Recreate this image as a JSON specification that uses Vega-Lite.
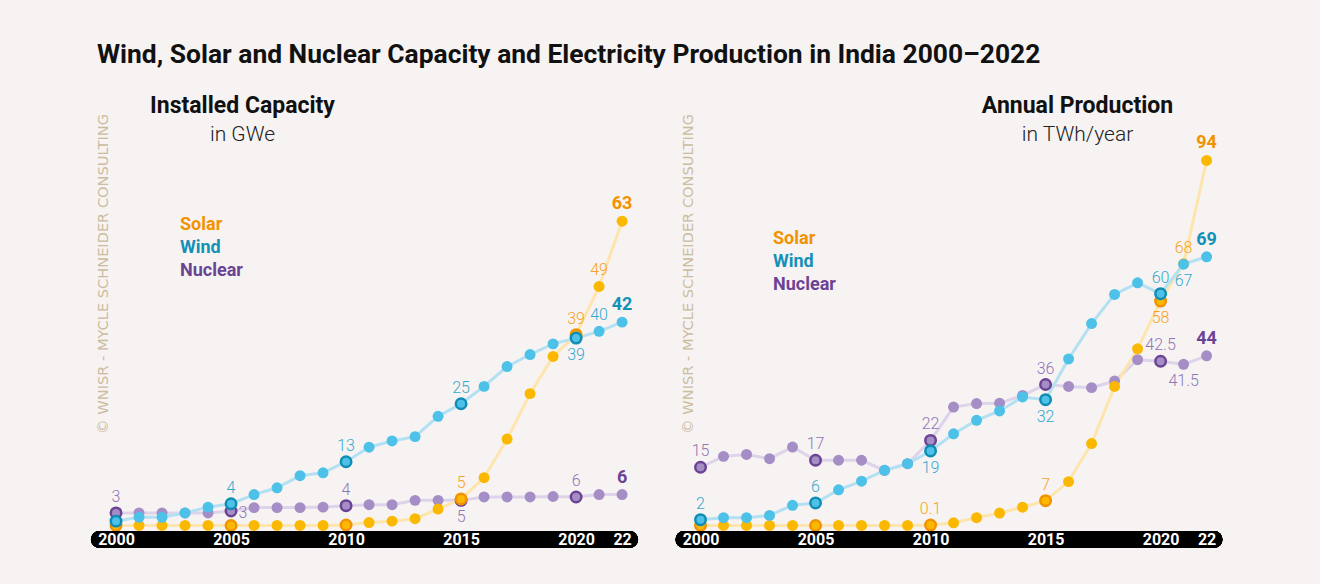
{
  "$schema": "https://vega.github.io/schema/vega-lite/v6.json",
  "background": "#f7f3f2",
  "padding": {"left": 95, "top": 41.5, "right": 102.5, "bottom": 37},
  "title": {
    "text": "Wind, Solar and Nuclear Capacity and Electricity Production in India 2000–2022",
    "anchor": "start",
    "font": "Roboto",
    "fontSize": 26.4,
    "fontWeight": "bold",
    "color": "#111111",
    "offset": 26,
    "dx": 2
  },
  "datasets": {
    "capacity": [
      {"series": "Nuclear", "year": 2000, "value": 2.6, "label": "3"},
      {"series": "Nuclear", "year": 2001, "value": 2.6},
      {"series": "Nuclear", "year": 2002, "value": 2.6},
      {"series": "Nuclear", "year": 2003, "value": 2.6},
      {"series": "Nuclear", "year": 2004, "value": 2.6},
      {"series": "Nuclear", "year": 2005, "value": 3.0, "label": "3"},
      {"series": "Nuclear", "year": 2006, "value": 3.7},
      {"series": "Nuclear", "year": 2007, "value": 3.7},
      {"series": "Nuclear", "year": 2008, "value": 3.7},
      {"series": "Nuclear", "year": 2009, "value": 3.8},
      {"series": "Nuclear", "year": 2010, "value": 4.1, "label": "4"},
      {"series": "Nuclear", "year": 2011, "value": 4.3},
      {"series": "Nuclear", "year": 2012, "value": 4.3},
      {"series": "Nuclear", "year": 2013, "value": 5.2},
      {"series": "Nuclear", "year": 2014, "value": 5.2},
      {"series": "Nuclear", "year": 2015, "value": 5.2, "label": "5"},
      {"series": "Nuclear", "year": 2016, "value": 5.9},
      {"series": "Nuclear", "year": 2017, "value": 5.9},
      {"series": "Nuclear", "year": 2018, "value": 5.9},
      {"series": "Nuclear", "year": 2019, "value": 6.0},
      {"series": "Nuclear", "year": 2020, "value": 5.9, "label": "6"},
      {"series": "Nuclear", "year": 2021, "value": 6.4},
      {"series": "Nuclear", "year": 2022, "value": 6.4, "label": "6"},
      {"series": "Solar", "year": 2000, "value": 0},
      {"series": "Solar", "year": 2001, "value": 0},
      {"series": "Solar", "year": 2002, "value": 0},
      {"series": "Solar", "year": 2003, "value": 0},
      {"series": "Solar", "year": 2004, "value": 0},
      {"series": "Solar", "year": 2005, "value": 0},
      {"series": "Solar", "year": 2006, "value": 0},
      {"series": "Solar", "year": 2007, "value": 0},
      {"series": "Solar", "year": 2008, "value": 0},
      {"series": "Solar", "year": 2009, "value": 0},
      {"series": "Solar", "year": 2010, "value": 0.1},
      {"series": "Solar", "year": 2011, "value": 0.6},
      {"series": "Solar", "year": 2012, "value": 0.9},
      {"series": "Solar", "year": 2013, "value": 1.4},
      {"series": "Solar", "year": 2014, "value": 3.4},
      {"series": "Solar", "year": 2015, "value": 5.5, "label": "5"},
      {"series": "Solar", "year": 2016, "value": 9.9},
      {"series": "Solar", "year": 2017, "value": 17.9},
      {"series": "Solar", "year": 2018, "value": 27.3},
      {"series": "Solar", "year": 2019, "value": 35.0},
      {"series": "Solar", "year": 2020, "value": 39.5, "label": "39"},
      {"series": "Solar", "year": 2021, "value": 49.5, "label": "49"},
      {"series": "Solar", "year": 2022, "value": 63, "label": "63"},
      {"series": "Wind", "year": 2000, "value": 0.9},
      {"series": "Wind", "year": 2001, "value": 1.7},
      {"series": "Wind", "year": 2002, "value": 1.7},
      {"series": "Wind", "year": 2003, "value": 2.6},
      {"series": "Wind", "year": 2004, "value": 3.8},
      {"series": "Wind", "year": 2005, "value": 4.5, "label": "4"},
      {"series": "Wind", "year": 2006, "value": 6.4},
      {"series": "Wind", "year": 2007, "value": 7.8},
      {"series": "Wind", "year": 2008, "value": 10.3},
      {"series": "Wind", "year": 2009, "value": 10.9},
      {"series": "Wind", "year": 2010, "value": 13.2, "label": "13"},
      {"series": "Wind", "year": 2011, "value": 16.2},
      {"series": "Wind", "year": 2012, "value": 17.5},
      {"series": "Wind", "year": 2013, "value": 18.4},
      {"series": "Wind", "year": 2014, "value": 22.6},
      {"series": "Wind", "year": 2015, "value": 25.2, "label": "25"},
      {"series": "Wind", "year": 2016, "value": 28.8},
      {"series": "Wind", "year": 2017, "value": 32.9},
      {"series": "Wind", "year": 2018, "value": 35.4},
      {"series": "Wind", "year": 2019, "value": 37.6},
      {"series": "Wind", "year": 2020, "value": 38.8, "label": "39"},
      {"series": "Wind", "year": 2021, "value": 40.2, "label": "40"},
      {"series": "Wind", "year": 2022, "value": 42.1, "label": "42"}
    ],
    "production": [
      {"series": "Nuclear", "year": 2000, "value": 15.0, "label": "15"},
      {"series": "Nuclear", "year": 2001, "value": 17.8},
      {"series": "Nuclear", "year": 2002, "value": 18.3},
      {"series": "Nuclear", "year": 2003, "value": 17.2},
      {"series": "Nuclear", "year": 2004, "value": 20.2},
      {"series": "Nuclear", "year": 2005, "value": 16.8, "label": "17"},
      {"series": "Nuclear", "year": 2006, "value": 16.8},
      {"series": "Nuclear", "year": 2007, "value": 16.8},
      {"series": "Nuclear", "year": 2008, "value": 14.2},
      {"series": "Nuclear", "year": 2009, "value": 15.9},
      {"series": "Nuclear", "year": 2010, "value": 21.9, "label": "22"},
      {"series": "Nuclear", "year": 2011, "value": 30.5},
      {"series": "Nuclear", "year": 2012, "value": 31.4},
      {"series": "Nuclear", "year": 2013, "value": 31.5},
      {"series": "Nuclear", "year": 2014, "value": 33.5},
      {"series": "Nuclear", "year": 2015, "value": 36.3, "label": "36"},
      {"series": "Nuclear", "year": 2016, "value": 35.8},
      {"series": "Nuclear", "year": 2017, "value": 35.5},
      {"series": "Nuclear", "year": 2018, "value": 37.2},
      {"series": "Nuclear", "year": 2019, "value": 42.7},
      {"series": "Nuclear", "year": 2020, "value": 42.3, "label": "42.5"},
      {"series": "Nuclear", "year": 2021, "value": 41.5, "label": "41.5"},
      {"series": "Nuclear", "year": 2022, "value": 43.7, "label": "44"},
      {"series": "Solar", "year": 2000, "value": 0},
      {"series": "Solar", "year": 2001, "value": 0},
      {"series": "Solar", "year": 2002, "value": 0},
      {"series": "Solar", "year": 2003, "value": 0},
      {"series": "Solar", "year": 2004, "value": 0},
      {"series": "Solar", "year": 2005, "value": 0},
      {"series": "Solar", "year": 2006, "value": 0},
      {"series": "Solar", "year": 2007, "value": 0},
      {"series": "Solar", "year": 2008, "value": 0},
      {"series": "Solar", "year": 2009, "value": 0},
      {"series": "Solar", "year": 2010, "value": 0.1, "label": "0.1"},
      {"series": "Solar", "year": 2011, "value": 0.7},
      {"series": "Solar", "year": 2012, "value": 2.0},
      {"series": "Solar", "year": 2013, "value": 3.2},
      {"series": "Solar", "year": 2014, "value": 4.7},
      {"series": "Solar", "year": 2015, "value": 6.4, "label": "7"},
      {"series": "Solar", "year": 2016, "value": 11.3},
      {"series": "Solar", "year": 2017, "value": 21.1},
      {"series": "Solar", "year": 2018, "value": 35.8},
      {"series": "Solar", "year": 2019, "value": 45.5},
      {"series": "Solar", "year": 2020, "value": 57.8, "label": "58"},
      {"series": "Solar", "year": 2021, "value": 67.4, "label": "68"},
      {"series": "Solar", "year": 2022, "value": 94, "label": "94"},
      {"series": "Wind", "year": 2000, "value": 1.5, "label": "2"},
      {"series": "Wind", "year": 2001, "value": 2.0},
      {"series": "Wind", "year": 2002, "value": 2.0},
      {"series": "Wind", "year": 2003, "value": 2.6},
      {"series": "Wind", "year": 2004, "value": 5.2},
      {"series": "Wind", "year": 2005, "value": 5.8, "label": "6"},
      {"series": "Wind", "year": 2006, "value": 9.2},
      {"series": "Wind", "year": 2007, "value": 11.4},
      {"series": "Wind", "year": 2008, "value": 14.2},
      {"series": "Wind", "year": 2009, "value": 15.9},
      {"series": "Wind", "year": 2010, "value": 19.2, "label": "19"},
      {"series": "Wind", "year": 2011, "value": 23.6},
      {"series": "Wind", "year": 2012, "value": 27.1},
      {"series": "Wind", "year": 2013, "value": 29.5},
      {"series": "Wind", "year": 2014, "value": 33.1},
      {"series": "Wind", "year": 2015, "value": 32.4, "label": "32"},
      {"series": "Wind", "year": 2016, "value": 42.9},
      {"series": "Wind", "year": 2017, "value": 52.0},
      {"series": "Wind", "year": 2018, "value": 59.5},
      {"series": "Wind", "year": 2019, "value": 62.5},
      {"series": "Wind", "year": 2020, "value": 59.7, "label": "60"},
      {"series": "Wind", "year": 2021, "value": 67.3, "label": "67"},
      {"series": "Wind", "year": 2022, "value": 69.2, "label": "69"}
    ]
  },
  "hconcat": [
    {
      "width": 530,
      "height": 388.5,
      "data": {"name": "capacity"},
      "title": {
        "text": "Installed Capacity",
        "subtitle": "in GWe",
        "anchor": "start",
        "frame": "group",
        "align": "center",
        "dx": 143.5,
        "offset": -31,
        "font": "Roboto",
        "fontSize": 23,
        "fontWeight": "bold",
        "color": "#111111",
        "subtitleFont": "Roboto",
        "subtitleFontSize": 21,
        "subtitleFontWeight": 300,
        "subtitleColor": "#222222",
        "subtitlePadding": 6
      },
      "encoding": {
        "x": {
          "field": "year", "type": "quantitative",
          "scale": {"domain": [1999.26, 2022.3], "nice": false, "zero": false},
          "axis": {
            "title": null, "orient": "bottom", "labels": false, "zindex": 1,
            "domainColor": "#000000", "domainWidth": 17, "domainCap": "round",
            "ticks": false, "tickSize": 0, "grid": false
          }
        },
        "y": {
          "field": "value", "type": "quantitative",
          "scale": {"domain": [-2.8, 77.64], "nice": false, "zero": false},
          "axis": {
            "title": "© WNISR - MYCLE SCHNEIDER CONSULTING",
            "titleX": 4, "titleY": -37, "titleAngle": 270, "titleAlign": "right", "titleBaseline": "middle",
            "titleColor": "#cbbc9f", "titleFont": "DejaVu Sans", "titleFontSize": 14.6, "titleFontWeight": "normal",
            "domain": false, "ticks": false, "labels": false, "grid": false
          }
        }
      },
      "layer": [
        {
          "mark": {"type": "line", "strokeWidth": 3},
          "encoding": {
            "color": {
              "field": "series", "type": "nominal",
              "scale": {"domain": ["Solar", "Wind", "Nuclear"], "range": ["#fde5ad", "#b3e0f2", "#ddd3ea"]},
              "legend": {
                "orient": "none", "legendX": 63, "legendY": 65, "title": null, "padding": 0,
                "symbolSize": 0, "symbolOpacity": 0, "symbolStrokeWidth": 0, "labelOffset": 0,
                "labelFont": "Roboto", "labelFontSize": 18, "labelFontWeight": "bold", "rowPadding": 5,
                "labelColor": {"expr": "datum.value == 'Solar' ? '#f39200' : datum.value == 'Wind' ? '#1391b8' : '#6c4394'"}
              }
            }
          }
        },
        {
          "mark": {"type": "circle", "size": 120, "opacity": 1},
          "encoding": {
            "fill": {"field": "series", "type": "nominal", "scale": {"domain": ["Solar", "Wind", "Nuclear"], "range": ["#fbb800", "#4dc1e8", "#a58dc6"]}, "legend": null}
          }
        },
        {
          "transform": [{"filter": "indexof([2000, 2005, 2010, 2015, 2020], datum.year) >= 0"}],
          "mark": {"type": "circle", "size": 110, "opacity": 1, "strokeWidth": 2.5},
          "encoding": {
            "fill": {"field": "series", "type": "nominal", "scale": {"domain": ["Solar", "Wind", "Nuclear"], "range": ["#fbb800", "#4dc1e8", "#a58dc6"]}, "legend": null},
            "stroke": {"field": "series", "type": "nominal", "scale": {"domain": ["Solar", "Wind", "Nuclear"], "range": ["#f39200", "#0f8db3", "#6c4394"]}, "legend": null}
          }
        },
        {
          "transform": [{"filter": "isValid(datum.label) && datum.year < 2022 && !(datum.series == 'Nuclear' && datum.year == 2015) && !(datum.series == 'Wind' && datum.year == 2020) && !(datum.series == 'Nuclear' && datum.year == 2005)"}],
          "mark": {"type": "text", "font": "Roboto", "fontSize": 16, "fontWeight": 300, "baseline": "middle", "dy": -16},
          "encoding": {
            "text": {"field": "label"},
            "fill": {"field": "series", "type": "nominal", "scale": {"domain": ["Solar", "Wind", "Nuclear"], "range": ["#f7a21b", "#34a9d1", "#8f76b6"]}, "legend": null}
          }
        },
        {
          "transform": [{"filter": "isValid(datum.label) && ((datum.series == 'Nuclear' && datum.year == 2015) || (datum.series == 'Wind' && datum.year == 2020))"}],
          "mark": {"type": "text", "font": "Roboto", "fontSize": 16, "fontWeight": 300, "baseline": "middle", "dy": 17},
          "encoding": {
            "text": {"field": "label"},
            "fill": {"field": "series", "type": "nominal", "scale": {"domain": ["Solar", "Wind", "Nuclear"], "range": ["#f7a21b", "#34a9d1", "#8f76b6"]}, "legend": null}
          }
        },
        {
          "transform": [{"filter": "isValid(datum.label) && datum.series == 'Nuclear' && datum.year == 2005"}],
          "mark": {"type": "text", "font": "Roboto", "fontSize": 16, "fontWeight": 300, "baseline": "middle", "dx": 12, "dy": 2},
          "encoding": {
            "text": {"field": "label"},
            "fill": {"field": "series", "type": "nominal", "scale": {"domain": ["Solar", "Wind", "Nuclear"], "range": ["#f7a21b", "#34a9d1", "#8f76b6"]}, "legend": null}
          }
        },
        {
          "transform": [{"filter": "isValid(datum.label) && datum.year == 2022"}],
          "mark": {"type": "text", "font": "Roboto", "fontSize": 18, "fontWeight": "bold", "baseline": "middle", "dy": -17},
          "encoding": {
            "x": {
              "field": "year", "type": "quantitative",
              "scale": {"domain": [1999.26, 2022.3], "nice": false, "zero": false},
              "axis": {
                "title": null, "orient": "bottom", "zindex": 2, "domain": false,
                "values": [2000, 2005, 2010, 2015, 2020, 2022], "format": "d",
                "labelExpr": "datum.value == 2022 ? '22' : datum.label",
                "ticks": false, "tickSize": 0, "grid": false,
                "labelColor": "#ffffff", "labelFont": "Roboto", "labelFontWeight": "bold", "labelFontSize": 16,
                "labelBaseline": "middle", "labelPadding": 0, "labelFlush": false, "labelOverlap": false
              }
            },
            "text": {"field": "label"},
            "fill": {"field": "series", "type": "nominal", "scale": {"domain": ["Solar", "Wind", "Nuclear"], "range": ["#f39200", "#1391b8", "#6c4394"]}, "legend": null}
          }
        }
      ],
      "resolve": {"scale": {"fill": "independent"}, "axis": {"x": "independent"}}
    },
    {
      "width": 530,
      "height": 388.5,
      "data": {"name": "production"},
      "title": {
        "text": "Annual Production",
        "subtitle": "in TWh/year",
        "anchor": "start",
        "frame": "group",
        "align": "center",
        "dx": 394,
        "offset": -31,
        "font": "Roboto",
        "fontSize": 23,
        "fontWeight": "bold",
        "color": "#111111",
        "subtitleFont": "Roboto",
        "subtitleFontSize": 21,
        "subtitleFontWeight": 300,
        "subtitleColor": "#222222",
        "subtitlePadding": 6
      },
      "encoding": {
        "x": {
          "field": "year", "type": "quantitative",
          "scale": {"domain": [1999.26, 2022.3], "nice": false, "zero": false},
          "axis": {
            "title": null, "orient": "bottom", "labels": false, "zindex": 1,
            "domainColor": "#000000", "domainWidth": 17, "domainCap": "round",
            "ticks": false, "tickSize": 0, "grid": false
          }
        },
        "y": {
          "field": "value", "type": "quantitative",
          "scale": {"domain": [-3.48, 96.57], "nice": false, "zero": false},
          "axis": {
            "title": "© WNISR - MYCLE SCHNEIDER CONSULTING",
            "titleX": 4.5, "titleY": -37, "titleAngle": 270, "titleAlign": "right", "titleBaseline": "middle",
            "titleColor": "#cbbc9f", "titleFont": "DejaVu Sans", "titleFontSize": 14.6, "titleFontWeight": "normal",
            "domain": false, "ticks": false, "labels": false, "grid": false
          }
        }
      },
      "layer": [
        {
          "mark": {"type": "line", "strokeWidth": 3},
          "encoding": {
            "color": {
              "field": "series", "type": "nominal",
              "scale": {"domain": ["Solar", "Wind", "Nuclear"], "range": ["#fde5ad", "#b3e0f2", "#ddd3ea"]},
              "legend": {
                "orient": "none", "legendX": 71.5, "legendY": 79, "title": null, "padding": 0,
                "symbolSize": 0, "symbolOpacity": 0, "symbolStrokeWidth": 0, "labelOffset": 0,
                "labelFont": "Roboto", "labelFontSize": 18, "labelFontWeight": "bold", "rowPadding": 5,
                "labelColor": {"expr": "datum.value == 'Solar' ? '#f39200' : datum.value == 'Wind' ? '#1391b8' : '#6c4394'"}
              }
            }
          }
        },
        {
          "mark": {"type": "circle", "size": 120, "opacity": 1},
          "encoding": {
            "fill": {"field": "series", "type": "nominal", "scale": {"domain": ["Solar", "Wind", "Nuclear"], "range": ["#fbb800", "#4dc1e8", "#a58dc6"]}, "legend": null}
          }
        },
        {
          "transform": [{"filter": "indexof([2000, 2005, 2010, 2015, 2020], datum.year) >= 0"}],
          "mark": {"type": "circle", "size": 110, "opacity": 1, "strokeWidth": 2.5},
          "encoding": {
            "fill": {"field": "series", "type": "nominal", "scale": {"domain": ["Solar", "Wind", "Nuclear"], "range": ["#fbb800", "#4dc1e8", "#a58dc6"]}, "legend": null},
            "stroke": {"field": "series", "type": "nominal", "scale": {"domain": ["Solar", "Wind", "Nuclear"], "range": ["#f39200", "#0f8db3", "#6c4394"]}, "legend": null}
          }
        },
        {
          "transform": [{"filter": "isValid(datum.label) && datum.year < 2022 && !(datum.series == 'Wind' && (datum.year == 2010 || datum.year == 2015 || datum.year == 2021)) && !(datum.series == 'Solar' && datum.year == 2020) && !(datum.series == 'Nuclear' && datum.year == 2021)"}],
          "mark": {"type": "text", "font": "Roboto", "fontSize": 16, "fontWeight": 300, "baseline": "middle", "dy": -16},
          "encoding": {
            "text": {"field": "label"},
            "fill": {"field": "series", "type": "nominal", "scale": {"domain": ["Solar", "Wind", "Nuclear"], "range": ["#f7a21b", "#34a9d1", "#8f76b6"]}, "legend": null}
          }
        },
        {
          "transform": [{"filter": "isValid(datum.label) && ((datum.series == 'Wind' && (datum.year == 2010 || datum.year == 2015 || datum.year == 2021)) || (datum.series == 'Solar' && datum.year == 2020) || (datum.series == 'Nuclear' && datum.year == 2021))"}],
          "mark": {"type": "text", "font": "Roboto", "fontSize": 16, "fontWeight": 300, "baseline": "middle", "dy": 17},
          "encoding": {
            "text": {"field": "label"},
            "fill": {"field": "series", "type": "nominal", "scale": {"domain": ["Solar", "Wind", "Nuclear"], "range": ["#f7a21b", "#34a9d1", "#8f76b6"]}, "legend": null}
          }
        },
        {
          "transform": [{"filter": "isValid(datum.label) && datum.year == 2022"}],
          "mark": {"type": "text", "font": "Roboto", "fontSize": 18, "fontWeight": "bold", "baseline": "middle", "dy": -17},
          "encoding": {
            "x": {
              "field": "year", "type": "quantitative",
              "scale": {"domain": [1999.26, 2022.3], "nice": false, "zero": false},
              "axis": {
                "title": null, "orient": "bottom", "zindex": 2, "domain": false,
                "values": [2000, 2005, 2010, 2015, 2020, 2022], "format": "d",
                "labelExpr": "datum.value == 2022 ? '22' : datum.label",
                "ticks": false, "tickSize": 0, "grid": false,
                "labelColor": "#ffffff", "labelFont": "Roboto", "labelFontWeight": "bold", "labelFontSize": 16,
                "labelBaseline": "middle", "labelPadding": 0, "labelFlush": false, "labelOverlap": false
              }
            },
            "text": {"field": "label"},
            "fill": {"field": "series", "type": "nominal", "scale": {"domain": ["Solar", "Wind", "Nuclear"], "range": ["#f39200", "#1391b8", "#6c4394"]}, "legend": null}
          }
        }
      ],
      "resolve": {"scale": {"fill": "independent"}, "axis": {"x": "independent"}}
    }
  ],
  "spacing": 54.5,
  "bounds": "flush",
  "resolve": {
    "scale": {"color": "independent", "fill": "independent", "stroke": "independent"},
    "legend": {"color": "independent"}
  },
  "config": {
    "view": {"stroke": null},
    "font": "Roboto"
  }
}
